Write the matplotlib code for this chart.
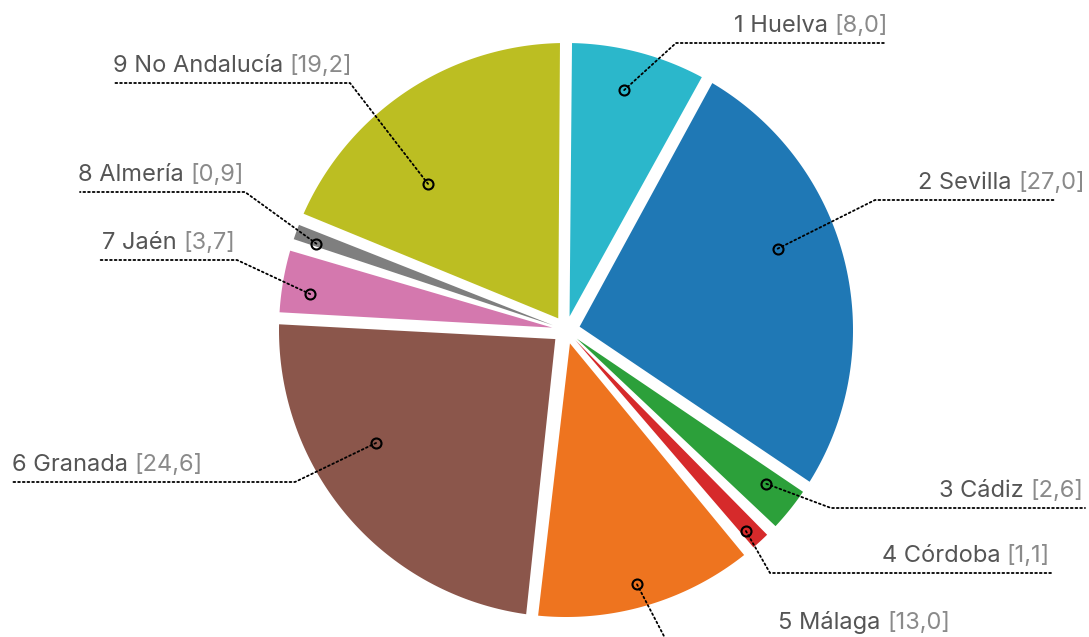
import numpy as np
import matplotlib
matplotlib.use("Agg")
import matplotlib.pyplot as plt
from matplotlib.patches import Polygon

# data
names = ["1 Huelva", "2 Sevilla", "3 Cádiz", "4 Córdoba", "5 Málaga",
         "6 Granada", "7 Jaén", "8 Almería", "9 No Andalucía"]
values = [8.0, 27.0, 2.6, 1.1, 13.0, 24.6, 3.7, 0.9, 19.2]
value_labels = ["[8,0]", "[27,0]", "[2,6]", "[1,1]", "[13,0]",
                "[24,6]", "[3,7]", "[0,9]", "[19,2]"]
colors = ["#2bb7cb", "#1f78b5", "#2ca03a", "#d62a2b", "#ee741f",
          "#8b564b", "#d478ae", "#7f7f7f", "#bcbe22"]

# layout (pixel coords, y downward)
W, H = 1089, 637
cx, cy = 566, 330
R, r0 = 287, 14          # outer radius, inner apex distance
pad = np.deg2rad(2.4)    # pad angle between slices
# marker: angle offset from slice middle (deg, clockwise), radius fraction
mk_dang = [-1.1, -7.3, -1.2, 0.8, 0.8, 9.7, -1.8, -0.9, -9.7]
mk_rfrac = [0.86, 0.79, 0.88, 0.94, 0.92, 0.77, 0.90, 0.92, 0.70]
# leader: side, elbow x, line y, far end x of the line, text anchor x
side = ["r", "r", "r", "r", "r", "l", "l", "l", "l"]
elbow_x = [676, 875, 831, 770, 666, 295, 237, 245, 350]
line_y = [43, 200, 508, 573, 640, 482, 260, 192, 83]
end_x = [886, 1056, 1085, 1052, 952, 12, 100, 80, 113]
text_x = [888, 1085, 1083, 1050, 950, 12, 102, 78, 113]


def polar(r, a):
    # a: clockwise from 12 o'clock, radians
    return cx + r * np.sin(a), cy - r * np.cos(a)


plt.rcParams['font.family'] = ['Inter', 'DejaVu Sans']
fig = plt.figure(figsize=(W / 100, H / 100), dpi=100)
ax = fig.add_axes([0, 0, 1, 1])
ax.set_xlim(0, W)
ax.set_ylim(H, 0)
ax.set_aspect("equal")
ax.axis("off")

vals = np.array(values)
k = (2 * np.pi - len(vals) * pad) / vals.sum()
spans = vals * k + pad
starts = np.concatenate([[0], np.cumsum(spans)[:-1]])
rp = np.hypot(r0, R)
p1 = np.arcsin(rp / R * np.sin(pad / 2))

mids = []
for a0, sp, col in zip(starts, spans, colors):
    a1 = a0 + sp
    mid = (a0 + a1) / 2
    mids.append(mid)
    arc = np.linspace(a0 + p1, a1 - p1, 120)
    ox, oy = polar(R, arc)
    axp, ayp = polar(r0, mid)
    pts = np.column_stack([np.r_[axp, ox], np.r_[ayp, oy]])
    ax.add_patch(Polygon(pts, closed=True, facecolor=col, edgecolor="none"))

px = 72 / fig.dpi  # points per pixel
dot = dict(color="black", lw=1.8 * px, linestyle=(0, (1, 1.6)),
           dash_capstyle="round")
fs = 17
name_col, val_col = "#555555", "#8a8a8a"
fig.canvas.draw()
rend = fig.canvas.get_renderer()

for i, mid in enumerate(mids):
    a = mid + np.deg2rad(mk_dang[i])
    mx, my = polar(mk_rfrac[i] * R, a)
    ax.plot([mx, elbow_x[i], end_x[i]], [my, line_y[i], line_y[i]], **dot)
    ax.plot(mx, my, "o", ms=10 * px, mfc="none", mec="black", mew=2.1 * px,
            zorder=5)

    ty = line_y[i] - 11
    if side[i] == "r":
        t = ax.text(text_x[i], ty, value_labels[i], ha="right", va="baseline",
                    fontsize=fs, color=val_col)
        w = t.get_window_extent(rend).width
        ax.text(text_x[i] - w, ty, names[i] + " ", ha="right", va="baseline",
                fontsize=fs, color=name_col)
    else:
        t = ax.text(text_x[i], ty, names[i] + " ", ha="left", va="baseline",
                    fontsize=fs, color=name_col)
        w = t.get_window_extent(rend).width
        ax.text(text_x[i] + w, ty, value_labels[i], ha="left", va="baseline",
                fontsize=fs, color=val_col)

fig.savefig("out.png", dpi=100)
